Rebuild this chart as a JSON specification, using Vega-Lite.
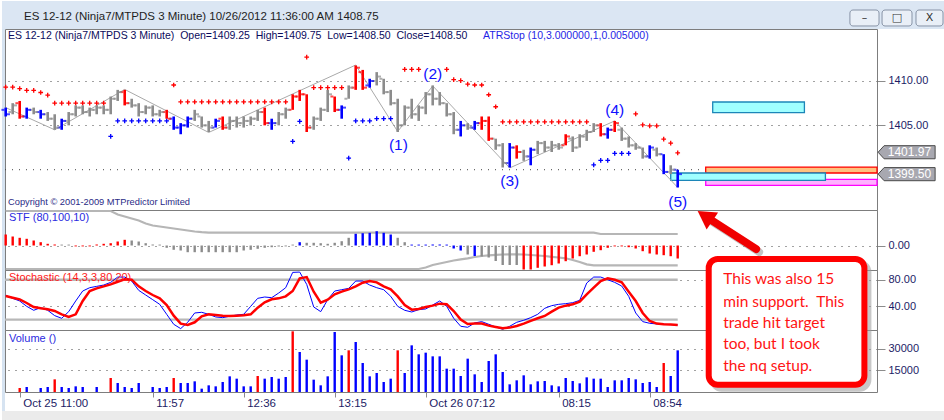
{
  "$schema": "https://vega.github.io/schema/vega-lite/v6.json",
  "background": "white",
  "padding": 0,
  "spacing": 0,
  "bounds": "flush",
  "config": {
    "view": {"stroke": "#7d7d7d", "strokeWidth": 1},
    "axis": {
      "labelFont": "Liberation Sans", "labelFontSize": 11, "labelColor": "#1c1c66",
      "tickColor": "#8c8c8c", "tickSize": 8, "labelPadding": 3, "domain": false,
      "gridColor": "#444444", "gridDash": [1, 6], "gridOpacity": 1
    },
    "text": {"font": "Liberation Sans"}
  },
  "resolve": {"scale": {"x": "shared", "y": "independent", "color": "independent", "fill": "independent", "stroke": "independent"}},
  "datasets": {
    "bars": [
      {"i":0,"o":1406.75,"h":1407,"l":1406,"c":1406.25,"s":"buy"},
      {"i":1,"o":1406.5,"h":1407.5,"l":1406.25,"c":1407.25,"s":"none"},
      {"i":2,"o":1407.5,"h":1407.75,"l":1405.75,"c":1406,"s":"sell"},
      {"i":3,"o":1406,"h":1407,"l":1405.75,"c":1406.75,"s":"buy"},
      {"i":4,"o":1406.75,"h":1407,"l":1406.25,"c":1406.5,"s":"none"},
      {"i":5,"o":1406.5,"h":1406.75,"l":1405.75,"c":1406.25,"s":"buy"},
      {"i":6,"o":1406.25,"h":1406.5,"l":1405.5,"c":1405.75,"s":"none"},
      {"i":7,"o":1405.75,"h":1406.25,"l":1404.5,"c":1404.75,"s":"none"},
      {"i":8,"o":1404.75,"h":1405.75,"l":1404.5,"c":1405.5,"s":"buy"},
      {"i":9,"o":1405.5,"h":1406.5,"l":1405,"c":1406.25,"s":"none"},
      {"i":10,"o":1406.25,"h":1407.25,"l":1406,"c":1407,"s":"none"},
      {"i":11,"o":1407,"h":1407.25,"l":1406.25,"c":1406.5,"s":"none"},
      {"i":12,"o":1406.5,"h":1407,"l":1406,"c":1406.75,"s":"none"},
      {"i":13,"o":1406.75,"h":1407.25,"l":1406.25,"c":1407,"s":"none"},
      {"i":14,"o":1407,"h":1407.25,"l":1406.25,"c":1406.75,"s":"none"},
      {"i":15,"o":1406.75,"h":1408.25,"l":1406.25,"c":1408,"s":"none"},
      {"i":16,"o":1408,"h":1409,"l":1407.75,"c":1408.75,"s":"none"},
      {"i":17,"o":1408.75,"h":1409,"l":1407.25,"c":1407.5,"s":"sell"},
      {"i":18,"o":1407.5,"h":1408,"l":1407,"c":1407.25,"s":"none"},
      {"i":19,"o":1407.25,"h":1407.5,"l":1406,"c":1406.5,"s":"none"},
      {"i":20,"o":1406.5,"h":1407.25,"l":1406.25,"c":1407,"s":"none"},
      {"i":21,"o":1407,"h":1407.25,"l":1406,"c":1406.25,"s":"none"},
      {"i":22,"o":1406.25,"h":1406.75,"l":1406,"c":1406.5,"s":"none"},
      {"i":23,"o":1406.5,"h":1406.75,"l":1405.75,"c":1405.75,"s":"sell"},
      {"i":24,"o":1405.75,"h":1406,"l":1404.5,"c":1404.75,"s":"buy"},
      {"i":25,"o":1404.75,"h":1405.25,"l":1404,"c":1405,"s":"buy"},
      {"i":26,"o":1405,"h":1406,"l":1404.75,"c":1405.75,"s":"buy"},
      {"i":27,"o":1405.75,"h":1406.75,"l":1405.5,"c":1406.25,"s":"none"},
      {"i":28,"o":1406,"h":1406,"l":1404.75,"c":1405,"s":"none"},
      {"i":29,"o":1405,"h":1405.5,"l":1404.25,"c":1404.75,"s":"none"},
      {"i":30,"o":1404.75,"h":1405.75,"l":1404.75,"c":1405.5,"s":"buy"},
      {"i":31,"o":1405.75,"h":1406,"l":1404.5,"c":1404.75,"s":"sell"},
      {"i":32,"o":1404.75,"h":1406,"l":1404.5,"c":1405.5,"s":"none"},
      {"i":33,"o":1405.5,"h":1406,"l":1404.75,"c":1405.25,"s":"none"},
      {"i":34,"o":1405.25,"h":1406,"l":1404.75,"c":1405.5,"s":"none"},
      {"i":35,"o":1405.5,"h":1406,"l":1405,"c":1405.75,"s":"none"},
      {"i":36,"o":1405.75,"h":1406.75,"l":1405.5,"c":1406.5,"s":"none"},
      {"i":37,"o":1406.5,"h":1407,"l":1405,"c":1405.25,"s":"sell"},
      {"i":38,"o":1405.25,"h":1405.75,"l":1404.5,"c":1405.25,"s":"buy"},
      {"i":39,"o":1405.25,"h":1406.5,"l":1405,"c":1406.25,"s":"none"},
      {"i":40,"o":1406.25,"h":1407,"l":1405.75,"c":1406.75,"s":"none"},
      {"i":41,"o":1406.75,"h":1408.5,"l":1406.75,"c":1408.25,"s":"sell"},
      {"i":42,"o":1408.25,"h":1409,"l":1407.75,"c":1408.5,"s":"sell"},
      {"i":43,"o":1408.5,"h":1408.5,"l":1404.25,"c":1404.75,"s":"sell"},
      {"i":44,"o":1404.75,"h":1406,"l":1404.5,"c":1405.75,"s":"none"},
      {"i":45,"o":1405.75,"h":1407,"l":1405.5,"c":1406.75,"s":"none"},
      {"i":46,"o":1406.75,"h":1409,"l":1406.5,"c":1408.5,"s":"none"},
      {"i":47,"o":1408.25,"h":1408.25,"l":1406.5,"c":1406.75,"s":"sell"},
      {"i":48,"o":1406.75,"h":1407.25,"l":1405.75,"c":1407,"s":"buy"},
      {"i":49,"o":1408,"h":1409.5,"l":1408,"c":1409.25,"s":"none"},
      {"i":50,"o":1409.25,"h":1411.75,"l":1409,"c":1411.5,"s":"sell"},
      {"i":51,"o":1411,"h":1411.25,"l":1409,"c":1409.25,"s":"sell"},
      {"i":52,"o":1409.5,"h":1410.25,"l":1409.25,"c":1410,"s":"buy"},
      {"i":53,"o":1410,"h":1411,"l":1409.5,"c":1410.5,"s":"none"},
      {"i":54,"o":1410.25,"h":1410.25,"l":1408.5,"c":1408.75,"s":"none"},
      {"i":55,"o":1408.75,"h":1409,"l":1407.25,"c":1407.5,"s":"none"},
      {"i":56,"o":1407.5,"h":1408,"l":1404.25,"c":1405,"s":"none"},
      {"i":57,"o":1405,"h":1407.25,"l":1405,"c":1407,"s":"none"},
      {"i":58,"o":1407,"h":1408,"l":1405.75,"c":1406.25,"s":"none"},
      {"i":59,"o":1406.25,"h":1407.25,"l":1405.5,"c":1407,"s":"none"},
      {"i":60,"o":1407,"h":1408.75,"l":1406.25,"c":1408.5,"s":"none"},
      {"i":61,"o":1408.5,"h":1409.5,"l":1407.25,"c":1408,"s":"none"},
      {"i":62,"o":1408,"h":1408.75,"l":1407.25,"c":1407.5,"s":"none"},
      {"i":63,"o":1407.5,"h":1407.5,"l":1406,"c":1406.25,"s":"none"},
      {"i":64,"o":1406.25,"h":1406.5,"l":1404,"c":1404.5,"s":"none"},
      {"i":65,"o":1404.5,"h":1405.5,"l":1403.75,"c":1405,"s":"buy"},
      {"i":66,"o":1405,"h":1405.25,"l":1404.5,"c":1404.75,"s":"none"},
      {"i":67,"o":1404.75,"h":1405.5,"l":1404.5,"c":1405.25,"s":"buy"},
      {"i":68,"o":1405.25,"h":1406,"l":1404.5,"c":1405.5,"s":"sell"},
      {"i":69,"o":1405.5,"h":1406,"l":1403.25,"c":1403.5,"s":"sell"},
      {"i":70,"o":1403.5,"h":1403.5,"l":1402.25,"c":1402.75,"s":"none"},
      {"i":71,"o":1402.75,"h":1403,"l":1400.25,"c":1400.75,"s":"none"},
      {"i":72,"o":1400.75,"h":1403,"l":1400.25,"c":1402.5,"s":"buy"},
      {"i":73,"o":1402.5,"h":1402.75,"l":1401.25,"c":1402,"s":"sell"},
      {"i":74,"o":1402,"h":1402.25,"l":1401,"c":1401.5,"s":"none"},
      {"i":75,"o":1401.5,"h":1402.5,"l":1400.5,"c":1402.25,"s":"buy"},
      {"i":76,"o":1402.25,"h":1403.25,"l":1401.75,"c":1403,"s":"none"},
      {"i":77,"o":1403,"h":1403.25,"l":1402,"c":1402.5,"s":"none"},
      {"i":78,"o":1402.5,"h":1403.25,"l":1402,"c":1402.75,"s":"none"},
      {"i":79,"o":1402.75,"h":1403,"l":1402.25,"c":1402.5,"s":"none"},
      {"i":80,"o":1402.75,"h":1404,"l":1402.75,"c":1403.75,"s":"sell"},
      {"i":81,"o":1403.5,"h":1403.75,"l":1402,"c":1402.5,"s":"none"},
      {"i":82,"o":1402.5,"h":1404,"l":1402.5,"c":1403.75,"s":"none"},
      {"i":83,"o":1403.75,"h":1404.5,"l":1403.25,"c":1404.25,"s":"none"},
      {"i":84,"o":1404.25,"h":1405.25,"l":1404.25,"c":1405,"s":"none"},
      {"i":85,"o":1405,"h":1405.25,"l":1403.75,"c":1404,"s":"sell"},
      {"i":86,"o":1404,"h":1404.75,"l":1403.5,"c":1404.5,"s":"buy"},
      {"i":87,"o":1404.5,"h":1405.5,"l":1404.25,"c":1405.25,"s":"sell"},
      {"i":88,"o":1404.5,"h":1404.75,"l":1403.25,"c":1403.5,"s":"none"},
      {"i":89,"o":1403.5,"h":1403.75,"l":1402.5,"c":1402.75,"s":"none"},
      {"i":90,"o":1402.75,"h":1403,"l":1402.25,"c":1402.5,"s":"none"},
      {"i":91,"o":1402.5,"h":1402.5,"l":1401.25,"c":1401.5,"s":"none"},
      {"i":92,"o":1401.5,"h":1402.75,"l":1401.25,"c":1402.5,"s":"buy"},
      {"i":93,"o":1402.25,"h":1402.5,"l":1401.5,"c":1401.75,"s":"none"},
      {"i":94,"o":1401.75,"h":1401.75,"l":1399.5,"c":1399.75,"s":"buy"},
      {"i":95,"o":1399.75,"h":1400.5,"l":1399.5,"c":1400,"s":"none"},
      {"i":96,"o":1400,"h":1400,"l":1398,"c":1399.5,"s":"buy"}
    ],
    "atr": [
      {"i":0,"p":1409.3,"side":"a"},{"i":1,"p":1409.3,"side":"a"},{"i":2,"p":1409.15,"side":"a"},{"i":3,"p":1408.95,"side":"a"},
      {"i":4,"p":1408.95,"side":"a"},{"i":5,"p":1408.7,"side":"a"},{"i":6,"p":1408.4,"side":"a"},
      {"i":7,"p":1407.5,"side":"a"},{"i":8,"p":1407.5,"side":"a"},{"i":9,"p":1407.5,"side":"a"},{"i":10,"p":1407.5,"side":"a"},
      {"i":11,"p":1407.5,"side":"a"},{"i":12,"p":1407.5,"side":"a"},{"i":13,"p":1407.5,"side":"a"},{"i":14,"p":1407.5,"side":"a"},
      {"i":15,"p":1403.75,"side":"b"},{"i":16,"p":1405.5,"side":"b"},{"i":17,"p":1405.5,"side":"b"},{"i":18,"p":1405.5,"side":"b"},
      {"i":19,"p":1405.5,"side":"b"},{"i":20,"p":1405.5,"side":"b"},{"i":21,"p":1405.5,"side":"b"},{"i":22,"p":1405.5,"side":"b"},
      {"i":23,"p":1405.5,"side":"b"},
      {"i":24,"p":1409.55,"side":"a"},{"i":25,"p":1407.65,"side":"a"},{"i":26,"p":1407.65,"side":"a"},{"i":27,"p":1407.65,"side":"a"},
      {"i":28,"p":1407.65,"side":"a"},{"i":29,"p":1407.65,"side":"a"},{"i":30,"p":1407.65,"side":"a"},{"i":31,"p":1407.65,"side":"a"},
      {"i":32,"p":1407.65,"side":"a"},{"i":33,"p":1407.65,"side":"a"},{"i":34,"p":1407.65,"side":"a"},{"i":35,"p":1407.65,"side":"a"},
      {"i":36,"p":1407.65,"side":"a"},{"i":37,"p":1407.65,"side":"a"},{"i":38,"p":1407.65,"side":"a"},{"i":39,"p":1407.65,"side":"a"},
      {"i":40,"p":1407.65,"side":"a"},
      {"i":41,"p":1403.2,"side":"b"},{"i":42,"p":1405.45,"side":"b"},
      {"i":43,"p":1412.7,"side":"a"},{"i":44,"p":1409.25,"side":"a"},{"i":45,"p":1409.25,"side":"a"},{"i":46,"p":1409.25,"side":"a"},
      {"i":47,"p":1409.25,"side":"a"},{"i":48,"p":1409.25,"side":"a"},
      {"i":49,"p":1401.3,"side":"b"},{"i":50,"p":1405.5,"side":"b"},{"i":51,"p":1405.5,"side":"b"},{"i":52,"p":1405.5,"side":"b"},
      {"i":53,"p":1405.75,"side":"b"},{"i":54,"p":1405.75,"side":"b"},{"i":55,"p":1405.75,"side":"b"},
      {"i":57,"p":1411.3,"side":"a"},{"i":58,"p":1411.3,"side":"a"},{"i":59,"p":1411.3,"side":"a"},{"i":63,"p":1411.3,"side":"a"},
      {"i":64,"p":1410.15,"side":"a"},{"i":65,"p":1410.05,"side":"a"},{"i":66,"p":1409.65,"side":"a"},{"i":67,"p":1409.55,"side":"a"},
      {"i":68,"p":1409.55,"side":"a"},{"i":69,"p":1408.45,"side":"a"},{"i":70,"p":1407.1,"side":"a"},
      {"i":71,"p":1405.4,"side":"a"},{"i":72,"p":1405.4,"side":"a"},{"i":73,"p":1405.4,"side":"a"},{"i":74,"p":1405.4,"side":"a"},
      {"i":75,"p":1405.4,"side":"a"},{"i":76,"p":1405.4,"side":"a"},{"i":77,"p":1405.4,"side":"a"},{"i":78,"p":1405.4,"side":"a"},
      {"i":79,"p":1405.4,"side":"a"},{"i":80,"p":1405.4,"side":"a"},{"i":81,"p":1405.4,"side":"a"},{"i":82,"p":1405.4,"side":"a"},
      {"i":83,"p":1405.4,"side":"a"},
      {"i":84,"p":1400.55,"side":"b"},{"i":85,"p":1401.05,"side":"b"},{"i":86,"p":1401.05,"side":"b"},{"i":87,"p":1401.85,"side":"b"},
      {"i":88,"p":1401.85,"side":"b"},{"i":89,"p":1401.85,"side":"b"},
      {"i":90,"p":1406.3,"side":"a"},{"i":91,"p":1405.05,"side":"a"},{"i":92,"p":1404.95,"side":"a"},{"i":93,"p":1404.95,"side":"a"},
      {"i":94,"p":1403.45,"side":"a"},{"i":95,"p":1403.0,"side":"a"},{"i":96,"p":1401.9,"side":"a"}
    ],
    "zigzag": [
      {"i":0,"p":1407.0},{"i":7,"p":1404.5},{"i":17,"p":1409.05},{"i":29,"p":1404.2},{"i":50,"p":1411.8},
      {"i":56,"p":1404.3},{"i":61,"p":1409.45},{"i":72,"p":1400.2},{"i":87,"p":1405.5},{"i":96,"p":1398.0}
    ],
    "waves": [
      {"w":"(1)","i":56.1,"p":1402.75},{"w":"(2)","i":61,"p":1410.75},{"w":"(3)","i":72,"p":1398.7},
      {"w":"(4)","i":87,"p":1406.75},{"w":"(5)","i":96,"p":1396.35}
    ],
    "zones": [
      {"zone":"s1","i1":100.0,"i2":124.47,"p1":1399.63,"p2":1400.3},
      {"zone":"s2","i1":100.0,"i2":124.47,"p1":1398.24,"p2":1398.92},
      {"zone":"t1","i1":101.0,"i2":114.1,"p1":1406.43,"p2":1407.63},
      {"zone":"t2","i1":95.0,"i2":117.1,"p1":1398.8,"p2":1399.63}
    ],
    "tags": [{"p":1401.97},{"p":1399.5}],
    "buttons": [
      {"b":"\u2013","i1":120.6,"i2":124.76},
      {"b":"\u25a1","i1":125.19,"i2":129.47},
      {"b":"X","i1":130.04,"i2":133.9}
    ],
    "ptext": [
      {"t":"ES 12-12 (Ninja7/MTPDS 3 Minute)\u00a0 Open=1409.25\u00a0 High=1409.75\u00a0 Low=1408.50\u00a0 Close=1408.50","i":0.33,"p":1415.07,"kind":"hdr"},
      {"t":"ATRStop (10,3.000000,1,0.005000)","i":68.2,"p":1415.07,"kind":"ind"}
    ],
    "stf": [
      {"i":0,"h":11,"st":"dn","a":34.5,"b":-23.5},{"i":1,"h":9,"st":"dn","a":34.5,"b":-23.5},
      {"i":2,"h":7.7,"st":"dn","a":34.5,"b":-23.5},{"i":3,"h":6.7,"st":"dn","a":34.5,"b":-23.5},
      {"i":4,"h":5,"st":"dn","a":34.5,"b":-23.5},{"i":5,"h":3.3,"st":"dn","a":34.5,"b":-23.5},
      {"i":6,"h":1.7,"st":"dn","a":34.5,"b":-23.5},{"i":7,"h":1,"st":"dn","a":34.5,"b":-23.5},
      {"i":8,"h":0.9,"st":"flat","a":34.5,"b":-23.5},{"i":9,"h":0.9,"st":"flat","a":34.5,"b":-23.5},
      {"i":10,"h":-0.9,"st":"dn","a":34.5,"b":-23.5},{"i":11,"h":-0.9,"st":"dn","a":34.5,"b":-23.5},
      {"i":12,"h":-0.9,"st":"dn","a":34.5,"b":-23.5},{"i":13,"h":1,"st":"dn","a":34.5,"b":-23.5},
      {"i":14,"h":1.7,"st":"dn","a":34.5,"b":-23.5},{"i":15,"h":2.3,"st":"dn","a":34.5,"b":-23.5},
      {"i":16,"h":4,"st":"dn","a":31,"b":-23.5},{"i":17,"h":5.7,"st":"dn","a":29,"b":-23.5},
      {"i":18,"h":5,"st":"flat","a":27,"b":-23.5},{"i":19,"h":4,"st":"flat","a":25,"b":-23.5},
      {"i":20,"h":2.3,"st":"flat","a":22,"b":-23.5},{"i":21,"h":1,"st":"flat","a":20,"b":-23.5},
      {"i":22,"h":0.9,"st":"flat","a":19,"b":-23.5},{"i":23,"h":-2.3,"st":"flat","a":18,"b":-23.5},
      {"i":24,"h":-4.3,"st":"flat","a":17,"b":-23.5},{"i":25,"h":-5,"st":"flat","a":16,"b":-23.5},
      {"i":26,"h":-6.7,"st":"flat","a":15,"b":-23.5},{"i":27,"h":-6.7,"st":"flat","a":14,"b":-23.5},
      {"i":28,"h":-6.7,"st":"flat","a":13.3,"b":-23.5},{"i":29,"h":-6.7,"st":"flat","a":12.8,"b":-23.5},
      {"i":30,"h":-6.7,"st":"flat","a":12.8,"b":-23.5},{"i":31,"h":-6.7,"st":"flat","a":12.8,"b":-23.5},
      {"i":32,"h":-6.7,"st":"flat","a":12.8,"b":-23.5},{"i":33,"h":-6.7,"st":"flat","a":12.8,"b":-23.5},
      {"i":34,"h":-5,"st":"flat","a":12.8,"b":-23.5},{"i":35,"h":-4.3,"st":"flat","a":12.8,"b":-23.5},
      {"i":36,"h":-3.3,"st":"flat","a":12.8,"b":-23.5},{"i":37,"h":-2.3,"st":"flat","a":12.8,"b":-23.5},
      {"i":38,"h":-1.7,"st":"flat","a":12.8,"b":-23.5},{"i":39,"h":-1,"st":"flat","a":12.8,"b":-23.5},
      {"i":40,"h":-0.9,"st":"flat","a":12.8,"b":-23.5},{"i":41,"h":0.9,"st":"flat","a":12.8,"b":-23.5},
      {"i":42,"h":3.3,"st":"up","a":12.8,"b":-23.5},{"i":43,"h":2.7,"st":"flat","a":12.8,"b":-23.5},
      {"i":44,"h":2.7,"st":"flat","a":12.8,"b":-23.5},{"i":45,"h":2.3,"st":"flat","a":12.8,"b":-23.5},
      {"i":46,"h":1.7,"st":"flat","a":12.8,"b":-23.5},{"i":47,"h":2.7,"st":"flat","a":12.8,"b":-23.5},
      {"i":48,"h":4.3,"st":"flat","a":12.8,"b":-23.5},{"i":49,"h":7.7,"st":"flat","a":12.8,"b":-23.5},
      {"i":50,"h":11.7,"st":"up","a":12.8,"b":-23.5},{"i":51,"h":12.3,"st":"up","a":12.8,"b":-23.5},
      {"i":52,"h":12.7,"st":"up","a":12.8,"b":-23.5},{"i":53,"h":14.3,"st":"up","a":12.8,"b":-23.5},
      {"i":54,"h":12.7,"st":"up","a":12.8,"b":-23.5},{"i":55,"h":11,"st":"up","a":12.8,"b":-23.5},
      {"i":56,"h":7.7,"st":"flat","a":12.8,"b":-23.5},{"i":57,"h":3.3,"st":"flat","a":12.8,"b":-23.5},
      {"i":58,"h":0.9,"st":"up","a":12.8,"b":-23.5},{"i":59,"h":0.9,"st":"up","a":12.8,"b":-23.5},
      {"i":60,"h":0.9,"st":"up","a":12.8,"b":-22},{"i":61,"h":1,"st":"up","a":12.8,"b":-19.5},
      {"i":62,"h":1,"st":"up","a":12.8,"b":-18},{"i":63,"h":0.9,"st":"up","a":12.8,"b":-16.5},
      {"i":64,"h":-3,"st":"up","a":12.8,"b":-15},{"i":65,"h":-5,"st":"up","a":12.8,"b":-13.8},
      {"i":66,"h":-9,"st":"flat","a":12.8,"b":-12.8},{"i":67,"h":-10.5,"st":"up","a":12.8,"b":-11.5},
      {"i":68,"h":-11,"st":"flat","a":12.8,"b":-10.5},{"i":69,"h":-12,"st":"flat","a":12.8,"b":-9.8},
      {"i":70,"h":-15.5,"st":"flat","a":12.8,"b":-9.3},{"i":71,"h":-19.5,"st":"flat","a":12.8,"b":-9},
      {"i":72,"h":-19.5,"st":"flat","a":12.8,"b":-8.8},{"i":73,"h":-19.5,"st":"flat","a":12.8,"b":-8.8},
      {"i":74,"h":-24,"st":"dn","a":12.8,"b":-9},{"i":75,"h":-24,"st":"dn","a":12.8,"b":-9.5},
      {"i":76,"h":-22.3,"st":"dn","a":12.8,"b":-10},{"i":77,"h":-21,"st":"dn","a":12.8,"b":-10.5},
      {"i":78,"h":-19.7,"st":"dn","a":12.8,"b":-11.3},{"i":79,"h":-18,"st":"dn","a":12.8,"b":-12},
      {"i":80,"h":-15.7,"st":"dn","a":12.8,"b":-12.8},{"i":81,"h":-13,"st":"dn","a":12.8,"b":-14.5},
      {"i":82,"h":-10.7,"st":"dn","a":12.8,"b":-16.5},{"i":83,"h":-9,"st":"dn","a":12.8,"b":-18.8},
      {"i":84,"h":-6.3,"st":"dn","a":12.8,"b":-19.8},{"i":85,"h":-4.7,"st":"dn","a":11.5,"b":-19.8},
      {"i":86,"h":-2.3,"st":"dn","a":11.5,"b":-19.8},{"i":87,"h":-0.9,"st":"dn","a":11.5,"b":-19.8},
      {"i":88,"h":-0.9,"st":"dn","a":11.5,"b":-19.8},{"i":89,"h":-1.7,"st":"dn","a":11.5,"b":-19.8},
      {"i":90,"h":-3,"st":"dn","a":11.5,"b":-19.8},{"i":91,"h":-5.7,"st":"dn","a":11.5,"b":-19.8},
      {"i":92,"h":-8,"st":"dn","a":11.5,"b":-19.8},{"i":93,"h":-9,"st":"dn","a":11.5,"b":-19.8},
      {"i":94,"h":-9.7,"st":"dn","a":11.5,"b":-19.8},{"i":95,"h":-10.7,"st":"dn","a":11.5,"b":-19.8},
      {"i":96,"h":-13,"st":"dn","a":11.5,"b":-19.8}
    ],
    "stoch": [
      {"i":0,"k":56.5,"d":55.5},{"i":1,"k":52,"d":53},{"i":2,"k":48,"d":50.5},{"i":3,"k":40,"d":45},
      {"i":4,"k":34,"d":39},{"i":5,"k":38,"d":37},{"i":6,"k":34,"d":35.5},{"i":7,"k":26,"d":33},
      {"i":8,"k":22,"d":28},{"i":9,"k":32,"d":24},{"i":10,"k":48,"d":28},{"i":11,"k":63,"d":48},
      {"i":12,"k":68,"d":63},{"i":13,"k":70,"d":67},{"i":14,"k":72,"d":70},{"i":15,"k":76,"d":73},
      {"i":16,"k":84,"d":77},{"i":17,"k":84,"d":80.5},{"i":18,"k":78,"d":80},{"i":19,"k":64,"d":70},
      {"i":20,"k":57,"d":63},{"i":21,"k":50,"d":57},{"i":22,"k":43,"d":52},{"i":23,"k":28,"d":42},
      {"i":24,"k":13,"d":26},{"i":25,"k":6.5,"d":14},{"i":26,"k":16,"d":12},{"i":27,"k":30,"d":16},
      {"i":28,"k":31,"d":25},{"i":29,"k":28,"d":28},{"i":30,"k":24,"d":27},{"i":31,"k":23,"d":26},
      {"i":32,"k":25,"d":25.5},{"i":33,"k":27,"d":26},{"i":34,"k":28,"d":26.5},{"i":35,"k":40,"d":28},
      {"i":36,"k":52,"d":38},{"i":37,"k":54,"d":46},{"i":38,"k":53,"d":50.5},{"i":39,"k":60,"d":52},
      {"i":40,"k":68,"d":55},{"i":41,"k":91,"d":63},{"i":42,"k":91.5,"d":82},{"i":43,"k":73,"d":84},
      {"i":44,"k":39,"d":62},{"i":45,"k":32,"d":45.5},{"i":46,"k":50,"d":50},{"i":47,"k":63,"d":58},
      {"i":48,"k":65,"d":62},{"i":49,"k":67,"d":65.5},{"i":50,"k":78,"d":70},{"i":51,"k":78,"d":75.5},
      {"i":52,"k":72,"d":78},{"i":53,"k":68,"d":76},{"i":54,"k":65,"d":70},{"i":55,"k":55,"d":65.5},
      {"i":56,"k":40,"d":55},{"i":57,"k":34,"d":42},{"i":58,"k":31.5,"d":35},{"i":59,"k":35,"d":36},
      {"i":60,"k":36,"d":39},{"i":61,"k":42,"d":41},{"i":62,"k":48,"d":44},{"i":63,"k":40,"d":43},
      {"i":64,"k":22,"d":33},{"i":65,"k":10,"d":20},{"i":66,"k":8.5,"d":13.5},{"i":67,"k":15,"d":14},
      {"i":68,"k":17,"d":14},{"i":69,"k":13,"d":11},{"i":70,"k":9,"d":9},{"i":71,"k":5.5,"d":7},
      {"i":72,"k":10,"d":8},{"i":73,"k":16,"d":10.5},{"i":74,"k":19,"d":14},{"i":75,"k":23,"d":18},
      {"i":76,"k":28,"d":22},{"i":77,"k":37,"d":25.5},{"i":78,"k":41,"d":32},{"i":79,"k":43,"d":38},
      {"i":80,"k":44,"d":41},{"i":81,"k":45.5,"d":43},{"i":82,"k":49,"d":47},{"i":83,"k":75,"d":58},
      {"i":84,"k":84,"d":68},{"i":85,"k":84,"d":78},{"i":86,"k":80,"d":82},{"i":87,"k":76,"d":80},
      {"i":88,"k":70.5,"d":76},{"i":89,"k":55,"d":62},{"i":90,"k":30,"d":48},{"i":91,"k":17,"d":30},
      {"i":92,"k":14.5,"d":18},{"i":93,"k":13.5,"d":14},{"i":94,"k":13,"d":13},{"i":95,"k":12.5,"d":12.5},
      {"i":96,"k":12,"d":12}
    ],
    "volume": [
      {"i":0,"v":0,"dir":"up"},{"i":1,"v":0,"dir":"up"},{"i":2,"v":2765,"dir":"dn"},{"i":3,"v":3456,"dir":"up"},
      {"i":4,"v":0,"dir":"up"},{"i":5,"v":2765,"dir":"up"},{"i":6,"v":3456,"dir":"up"},{"i":7,"v":8755,"dir":"dn"},
      {"i":8,"v":3456,"dir":"up"},{"i":9,"v":2765,"dir":"up"},{"i":10,"v":3917,"dir":"up"},{"i":11,"v":3456,"dir":"up"},
      {"i":12,"v":0,"dir":"up"},{"i":13,"v":3456,"dir":"up"},{"i":14,"v":0,"dir":"up"},{"i":15,"v":9677,"dir":"dn"},
      {"i":16,"v":6221,"dir":"up"},{"i":17,"v":3456,"dir":"up"},{"i":18,"v":2765,"dir":"up"},{"i":19,"v":6221,"dir":"up"},
      {"i":20,"v":0,"dir":"up"},{"i":21,"v":3456,"dir":"up"},{"i":22,"v":2765,"dir":"up"},{"i":23,"v":3456,"dir":"up"},
      {"i":24,"v":9677,"dir":"dn"},{"i":25,"v":6221,"dir":"up"},{"i":26,"v":6221,"dir":"up"},{"i":27,"v":7373,"dir":"up"},
      {"i":28,"v":2304,"dir":"up"},{"i":29,"v":4608,"dir":"up"},{"i":30,"v":3917,"dir":"up"},{"i":31,"v":6912,"dir":"up"},
      {"i":32,"v":10829,"dir":"up"},{"i":33,"v":9216,"dir":"up"},{"i":34,"v":3917,"dir":"up"},{"i":35,"v":3917,"dir":"up"},
      {"i":36,"v":11059,"dir":"dn"},{"i":37,"v":9216,"dir":"up"},{"i":38,"v":10368,"dir":"up"},{"i":39,"v":9216,"dir":"up"},
      {"i":40,"v":10368,"dir":"up"},{"i":41,"v":41933,"dir":"dn"},{"i":42,"v":27648,"dir":"up"},{"i":43,"v":22349,"dir":"up"},
      {"i":44,"v":8525,"dir":"up"},{"i":45,"v":4608,"dir":"up"},{"i":46,"v":10829,"dir":"up"},{"i":47,"v":41472,"dir":"up"},
      {"i":48,"v":25344,"dir":"up"},{"i":49,"v":28800,"dir":"dn"},{"i":50,"v":34560,"dir":"up"},{"i":51,"v":20045,"dir":"up"},
      {"i":52,"v":10829,"dir":"up"},{"i":53,"v":13133,"dir":"up"},{"i":54,"v":6912,"dir":"up"},{"i":55,"v":9216,"dir":"up"},
      {"i":56,"v":28800,"dir":"dn"},{"i":57,"v":13133,"dir":"up"},{"i":58,"v":32256,"dir":"up"},{"i":59,"v":26035,"dir":"up"},
      {"i":60,"v":27187,"dir":"up"},{"i":61,"v":24653,"dir":"up"},{"i":62,"v":24653,"dir":"up"},{"i":63,"v":16128,"dir":"up"},
      {"i":64,"v":16128,"dir":"up"},{"i":65,"v":11059,"dir":"up"},{"i":66,"v":23040,"dir":"up"},{"i":67,"v":12211,"dir":"up"},
      {"i":68,"v":6912,"dir":"up"},{"i":69,"v":21427,"dir":"up"},{"i":70,"v":26035,"dir":"up"},{"i":71,"v":13824,"dir":"up"},
      {"i":72,"v":5299,"dir":"up"},{"i":73,"v":8064,"dir":"up"},{"i":74,"v":11520,"dir":"up"},{"i":75,"v":5299,"dir":"up"},
      {"i":76,"v":7373,"dir":"up"},{"i":77,"v":7603,"dir":"up"},{"i":78,"v":4608,"dir":"up"},{"i":79,"v":3917,"dir":"up"},
      {"i":80,"v":9677,"dir":"up"},{"i":81,"v":7603,"dir":"up"},{"i":82,"v":5990,"dir":"up"},{"i":83,"v":10138,"dir":"up"},
      {"i":84,"v":9216,"dir":"up"},{"i":85,"v":9216,"dir":"up"},{"i":86,"v":3456,"dir":"up"},{"i":87,"v":8064,"dir":"up"},
      {"i":88,"v":8064,"dir":"up"},{"i":89,"v":9677,"dir":"up"},{"i":90,"v":8755,"dir":"up"},{"i":91,"v":6221,"dir":"up"},
      {"i":92,"v":6912,"dir":"up"},{"i":93,"v":3456,"dir":"up"},{"i":94,"v":20045,"dir":"dn"},{"i":95,"v":11059,"dir":"up"},
      {"i":96,"v":28800,"dir":"up"}
    ],
    "note": [
      {"t":"This was also 15","i":102.5,"v":77898},
      {"t":"min support.\u00a0 This","i":102.5,"v":62415},
      {"t":"trade hit target","i":102.5,"v":47900},
      {"t":"too, but I took","i":102.5,"v":32970},
      {"t":"the nq setup.","i":102.5,"v":17971}
    ]
  },
  "vconcat": [
    {
      "width": 872,
      "height": 181,
      "resolve": {"scale": {"color": "independent", "fill": "independent", "stroke": "independent"}},
      "layer": [
        {
          "data": {"values": [{"part": "bar"}]},
          "mark": {"type": "rect", "color": "#dbe6f3"},
          "encoding": {
            "x": {"datum": -0.53, "type": "quantitative", "scale": {"domain": [-0.1, 124.47], "nice": false, "zero": false}, "axis": null, "title": null},
            "x2": {"datum": 134.33},
            "y": {"datum": 1415.86, "type": "quantitative", "scale": {"domain": [1395.46, 1415.86], "nice": false, "zero": false},
                  "axis": {"orient": "right", "values": [1405, 1410], "format": ".2f", "grid": true, "title": null}, "title": null},
            "y2": {"datum": 1419.02}
          }
        },
        {
          "data": {"values": [{"part": "edge"}]},
          "mark": {"type": "rect", "color": "#d6e3f1"},
          "encoding": {
            "x": {"datum": -0.53, "type": "quantitative", "axis": null, "title": null},
            "x2": {"datum": -0.1},
            "y": {"datum": 1372.8, "type": "quantitative", "title": null},
            "y2": {"datum": 1415.86}
          }
        },
        {
          "data": {"values": [{"part": "scroll"}]},
          "mark": {"type": "rect", "color": "#ebebeb"},
          "encoding": {
            "x": {"datum": -0.53, "type": "quantitative", "axis": null, "title": null},
            "x2": {"datum": 134.33},
            "y": {"datum": 1371.67, "type": "quantitative", "title": null},
            "y2": {"datum": 1372.8}
          }
        },
        {
          "data": {"values": [{"lvl": 1400}]},
          "mark": {"type": "rule", "color": "#444444", "strokeDash": [1, 6], "strokeWidth": 1},
          "encoding": {
            "x": {"datum": -0.1, "type": "quantitative", "axis": null, "title": null},
            "x2": {"datum": 124.47},
            "y": {"field": "lvl", "type": "quantitative", "title": null}
          }
        },
        {
          "data": {"name": "buttons"},
          "mark": {"type": "rect", "fill": "#e9eff7", "stroke": "#8793a6", "strokeWidth": 1, "cornerRadius": 3},
          "encoding": {
            "x": {"field": "i1", "type": "quantitative", "axis": null, "title": null},
            "x2": {"field": "i2"},
            "y": {"datum": 1416.2, "type": "quantitative", "title": null},
            "y2": {"datum": 1418.0}
          }
        },
        {
          "data": {"name": "buttons"},
          "transform": [{"calculate": "(datum.i1 + datum.i2) / 2", "as": "im"}],
          "mark": {"type": "text", "fontSize": 11, "color": "#333333", "font": "DejaVu Sans", "baseline": "middle"},
          "encoding": {
            "x": {"field": "im", "type": "quantitative", "axis": null, "title": null},
            "y": {"datum": 1417.1, "type": "quantitative", "title": null},
            "text": {"field": "b"}
          }
        },
        {
          "data": {"values": [{"t": "ES 12-12 (Ninja7/MTPDS 3 Minute) 10/26/2012 11:36:00 AM 1408.75"}]},
          "mark": {"type": "text", "align": "left", "baseline": "middle", "fontSize": 11.5, "color": "#1e1e1e"},
          "encoding": {
            "x": {"datum": 2.61, "type": "quantitative", "axis": null, "title": null},
            "y": {"datum": 1417.21, "type": "quantitative", "title": null},
            "text": {"field": "t"}
          }
        },
        {
          "data": {"name": "zones"},
          "mark": {"type": "rect", "strokeWidth": 1.3},
          "encoding": {
            "x": {"field": "i1", "type": "quantitative", "axis": null, "title": null},
            "x2": {"field": "i2"},
            "y": {"field": "p1", "type": "quantitative", "title": null},
            "y2": {"field": "p2"},
            "fill": {"field": "zone", "type": "nominal", "legend": null,
                     "scale": {"domain": ["s1", "s2", "t1", "t2"], "range": ["#ffc27f", "#ffb2ff", "#a0ffff", "#a0ffff"]}},
            "stroke": {"field": "zone", "type": "nominal", "legend": null,
                       "scale": {"domain": ["s1", "s2", "t1", "t2"], "range": ["#ff0000", "#ff00ff", "#1c86b8", "#1c86b8"]}}
          }
        },
        {
          "data": {"name": "zigzag"},
          "mark": {"type": "line", "color": "#a9a9a9", "strokeWidth": 1},
          "encoding": {
            "x": {"field": "i", "type": "quantitative", "axis": null, "title": null},
            "y": {"field": "p", "type": "quantitative", "title": null}
          }
        },
        {
          "data": {"name": "atr"},
          "mark": {"type": "point", "shape": "M-1,-0.28H1V0.28H-1Z M-0.28,-1H0.28V1H-0.28Z", "filled": true, "size": 22, "opacity": 1},
          "encoding": {
            "x": {"field": "i", "type": "quantitative", "axis": null, "title": null},
            "y": {"field": "p", "type": "quantitative", "title": null},
            "color": {"field": "side", "type": "nominal", "legend": null,
                      "scale": {"domain": ["a", "b"], "range": ["#ff0000", "#0000ff"]}}
          }
        },
        {
          "data": {"name": "bars"},
          "mark": {"type": "rule", "strokeWidth": 2.6},
          "encoding": {
            "x": {"field": "i", "type": "quantitative", "axis": null, "title": null},
            "y": {"field": "l", "type": "quantitative", "title": null},
            "y2": {"field": "h"},
            "color": {"field": "s", "type": "nominal", "legend": null,
                      "scale": {"domain": ["none", "sell", "buy"], "range": ["#8c8c8c", "#ff0000", "#0000ff"]}}
          }
        },
        {
          "data": {"name": "bars"},
          "mark": {"type": "tick", "orient": "horizontal", "size": 3, "thickness": 2, "xOffset": -2.8},
          "encoding": {
            "x": {"field": "i", "type": "quantitative", "axis": null, "title": null},
            "y": {"field": "o", "type": "quantitative", "title": null},
            "color": {"field": "s", "type": "nominal", "legend": null,
                      "scale": {"domain": ["none", "sell", "buy"], "range": ["#8c8c8c", "#ff0000", "#0000ff"]}}
          }
        },
        {
          "data": {"name": "bars"},
          "mark": {"type": "tick", "orient": "horizontal", "size": 3, "thickness": 2, "xOffset": 2.8},
          "encoding": {
            "x": {"field": "i", "type": "quantitative", "axis": null, "title": null},
            "y": {"field": "c", "type": "quantitative", "title": null},
            "color": {"field": "s", "type": "nominal", "legend": null,
                      "scale": {"domain": ["none", "sell", "buy"], "range": ["#8c8c8c", "#ff0000", "#0000ff"]}}
          }
        },
        {
          "data": {"name": "waves"},
          "mark": {"type": "text", "fontSize": 15.5, "color": "#1010ff", "baseline": "middle", "align": "center"},
          "encoding": {
            "x": {"field": "i", "type": "quantitative", "axis": null, "title": null},
            "y": {"field": "p", "type": "quantitative", "title": null},
            "text": {"field": "w"}
          }
        },
        {
          "data": {"name": "ptext"},
          "mark": {"type": "text", "fontSize": 10.5, "align": "left", "baseline": "middle"},
          "encoding": {
            "x": {"field": "i", "type": "quantitative", "axis": null, "title": null},
            "y": {"field": "p", "type": "quantitative", "title": null},
            "text": {"field": "t"},
            "color": {"field": "kind", "type": "nominal", "legend": null,
                      "scale": {"domain": ["hdr", "ind"], "range": ["#0b0b5c", "#1f1fe6"]}}
          }
        },
        {
          "data": {"values": [{"t": "Copyright \u00a9 2001-2009 MTPredictor Limited", "i": 0.33, "p": 1396.4}]},
          "mark": {"type": "text", "fontSize": 9.3, "align": "left", "baseline": "middle", "color": "#2a2a86"},
          "encoding": {
            "x": {"field": "i", "type": "quantitative", "axis": null, "title": null},
            "y": {"field": "p", "type": "quantitative", "title": null},
            "text": {"field": "t"}
          }
        },
        {
          "data": {"name": "tags"},
          "mark": {"type": "point", "filled": true, "opacity": 1, "size": 3249,
                   "shape": "M-1,0L-0.79,-0.23L1,-0.23L1,0.23L-0.79,0.23Z",
                   "fill": "#a8a8b0", "stroke": "#4a4a4a", "strokeWidth": 1},
          "encoding": {
            "x": {"datum": 128.7, "type": "quantitative", "axis": null, "title": null},
            "y": {"field": "p", "type": "quantitative", "title": null}
          }
        },
        {
          "data": {"name": "tags"},
          "mark": {"type": "text", "fontSize": 12, "color": "white", "baseline": "middle", "align": "center"},
          "encoding": {
            "x": {"datum": 129.1, "type": "quantitative", "axis": null, "title": null},
            "y": {"field": "p", "type": "quantitative", "title": null},
            "text": {"field": "p", "type": "quantitative", "format": ".2f"}
          }
        }
      ]
    },
    {
      "width": 872,
      "height": 60,
      "layer": [
        {
          "data": {"name": "stf"},
          "mark": {"type": "line", "color": "#b6b6b6", "strokeWidth": 2.2},
          "encoding": {
            "x": {"field": "i", "type": "quantitative", "scale": {"domain": [-0.1, 124.47], "nice": false, "zero": false}, "axis": null, "title": null},
            "y": {"field": "a", "type": "quantitative", "scale": {"domain": [-24.5, 35.5], "nice": false, "zero": false},
                  "axis": {"orient": "right", "values": [0], "format": ".2f", "grid": true, "title": null}, "title": null}
          }
        },
        {
          "data": {"name": "stf"},
          "mark": {"type": "line", "color": "#b6b6b6", "strokeWidth": 2.2},
          "encoding": {
            "x": {"field": "i", "type": "quantitative", "axis": null, "title": null},
            "y": {"field": "b", "type": "quantitative", "title": null}
          }
        },
        {
          "data": {"name": "stf"},
          "mark": {"type": "rule", "strokeWidth": 2.4},
          "encoding": {
            "x": {"field": "i", "type": "quantitative", "axis": null, "title": null},
            "y": {"field": "h", "type": "quantitative", "title": null},
            "y2": {"datum": 0},
            "color": {"field": "st", "type": "nominal", "legend": null,
                      "scale": {"domain": ["flat", "dn", "up"], "range": ["#8c8c8c", "#ff0000", "#0000ff"]}}
          }
        },
        {
          "data": {"values": [{"t": "STF (80,100,10)", "i": 0.47, "y": 27.2}]},
          "mark": {"type": "text", "fontSize": 11, "align": "left", "baseline": "middle", "color": "#2b2be0"},
          "encoding": {
            "x": {"field": "i", "type": "quantitative", "axis": null, "title": null},
            "y": {"field": "y", "type": "quantitative", "title": null},
            "text": {"field": "t"}
          }
        }
      ]
    },
    {
      "width": 872,
      "height": 60,
      "layer": [
        {
          "data": {"values": [{"lvl": 80}, {"lvl": 20}]},
          "mark": {"type": "rule", "color": "#b8b8b8", "strokeWidth": 2.4},
          "encoding": {
            "x": {"datum": -0.1, "type": "quantitative", "scale": {"domain": [-0.1, 124.47], "nice": false, "zero": false}, "axis": null, "title": null},
            "x2": {"datum": 96},
            "y": {"field": "lvl", "type": "quantitative", "scale": {"domain": [4.4, 94.6], "nice": false, "zero": false},
                  "axis": {"orient": "right", "values": [40, 80], "format": ".2f", "grid": true, "title": null}, "title": null}
          }
        },
        {
          "data": {"name": "stoch"},
          "mark": {"type": "line", "color": "#0000ff", "strokeWidth": 1},
          "encoding": {
            "x": {"field": "i", "type": "quantitative", "axis": null, "title": null},
            "y": {"field": "k", "type": "quantitative", "title": null}
          }
        },
        {
          "data": {"name": "stoch"},
          "mark": {"type": "line", "color": "#ff0000", "strokeWidth": 2.5},
          "encoding": {
            "x": {"field": "i", "type": "quantitative", "axis": null, "title": null},
            "y": {"field": "d", "type": "quantitative", "title": null}
          }
        },
        {
          "data": {"values": [{"t": "Stochastic (14,3,3,80,20)", "i": 0.47, "y": 82.1}]},
          "mark": {"type": "text", "fontSize": 11, "align": "left", "baseline": "middle", "color": "#ff1a1a"},
          "encoding": {
            "x": {"field": "i", "type": "quantitative", "axis": null, "title": null},
            "y": {"field": "y", "type": "quantitative", "title": null},
            "text": {"field": "t"}
          }
        }
      ]
    },
    {
      "width": 872,
      "height": 62,
      "layer": [
        {
          "data": {"name": "volume"},
          "mark": {"type": "rule", "strokeWidth": 2.4},
          "encoding": {
            "x": {"field": "i", "type": "quantitative", "scale": {"domain": [-0.1, 124.47], "nice": false, "zero": false},
                  "axis": {"orient": "bottom", "values": [2, 21, 34, 47, 60, 79, 92], "grid": false, "tickSize": 5,
                           "labelAlign": "left", "labelOffset": 3, "labelPadding": 0, "labelFontSize": 11.5,
                           "labelFlush": false, "labelOverlap": false, "title": null,
                           "labelExpr": "datum.value == 2 ? 'Oct 25 11:00' : datum.value == 21 ? '11:57' : datum.value == 34 ? '12:36' : datum.value == 47 ? '13:15' : datum.value == 60 ? 'Oct 26 07:12' : datum.value == 79 ? '08:15' : '08:54'"},
                  "title": null},
            "y": {"field": "v", "type": "quantitative", "scale": {"domain": [0, 42854], "nice": false, "zero": false},
                  "axis": {"orient": "right", "values": [15000, 30000], "format": "d", "grid": true, "title": null}, "title": null},
            "y2": {"datum": 0},
            "color": {"field": "dir", "type": "nominal", "legend": null,
                      "scale": {"domain": ["up", "dn"], "range": ["#0000ff", "#ff0000"]}}
          }
        },
        {
          "data": {"values": [{"t": "Volume ()", "i": 0.47, "v": 36841}]},
          "mark": {"type": "text", "fontSize": 11, "align": "left", "baseline": "middle", "color": "#2b2be0"},
          "encoding": {
            "x": {"field": "i", "type": "quantitative", "title": null},
            "y": {"field": "v", "type": "quantitative", "title": null},
            "text": {"field": "t"}
          }
        },
        {
          "data": {"values": [{"i": 100.43, "i2": 122.67, "v": 91930, "v2": 5046}]},
          "mark": {"type": "rect", "cornerRadius": 9, "fill": "#9c9c9c", "stroke": "#9c9c9c", "strokeWidth": 6, "opacity": 0.55,
                   "xOffset": 4, "x2Offset": 4, "yOffset": 4, "y2Offset": 4},
          "encoding": {
            "x": {"field": "i", "type": "quantitative", "title": null},
            "x2": {"field": "i2"},
            "y": {"field": "v", "type": "quantitative", "title": null},
            "y2": {"field": "v2"}
          }
        },
        {
          "data": {"values": [{"i": 100.43, "i2": 122.67, "v": 91930, "v2": 5046}]},
          "mark": {"type": "rect", "cornerRadius": 9, "fill": "white", "stroke": "#ff0000", "strokeWidth": 6},
          "encoding": {
            "x": {"field": "i", "type": "quantitative", "title": null},
            "x2": {"field": "i2"},
            "y": {"field": "v", "type": "quantitative", "title": null},
            "y2": {"field": "v2"}
          }
        },
        {
          "data": {"name": "note"},
          "mark": {"type": "text", "font": "Lato", "fontSize": 15.5, "align": "left", "baseline": "middle", "color": "#ff1414"},
          "encoding": {
            "x": {"field": "i", "type": "quantitative", "title": null},
            "y": {"field": "v", "type": "quantitative", "title": null},
            "text": {"field": "t"}
          }
        },
        {
          "data": {"values": [{"i": 107.2, "v": 98842, "i2": 100.33, "v2": 120269}]},
          "mark": {"type": "rule", "strokeWidth": 8, "strokeCap": "round", "color": "#9c9c9c", "opacity": 0.6,
                   "xOffset": 3, "x2Offset": 3, "yOffset": 3, "y2Offset": 3},
          "encoding": {
            "x": {"field": "i", "type": "quantitative", "title": null},
            "x2": {"field": "i2"},
            "y": {"field": "v", "type": "quantitative", "title": null},
            "y2": {"field": "v2"}
          }
        },
        {
          "data": {"values": [{"i": 107.2, "v": 98842, "i2": 100.33, "v2": 120269}]},
          "mark": {"type": "rule", "strokeWidth": 8, "strokeCap": "round", "color": "#f00000"},
          "encoding": {
            "x": {"field": "i", "type": "quantitative", "title": null},
            "x2": {"field": "i2"},
            "y": {"field": "v", "type": "quantitative", "title": null},
            "y2": {"field": "v2"}
          }
        },
        {
          "data": {"values": [{"i": 99.9, "v": 121651}]},
          "mark": {"type": "point", "shape": "triangle-up", "angle": -56, "size": 420, "filled": true, "opacity": 1, "color": "#f00000"},
          "encoding": {
            "x": {"field": "i", "type": "quantitative", "title": null},
            "y": {"field": "v", "type": "quantitative", "title": null}
          }
        }
      ]
    }
  ]
}
